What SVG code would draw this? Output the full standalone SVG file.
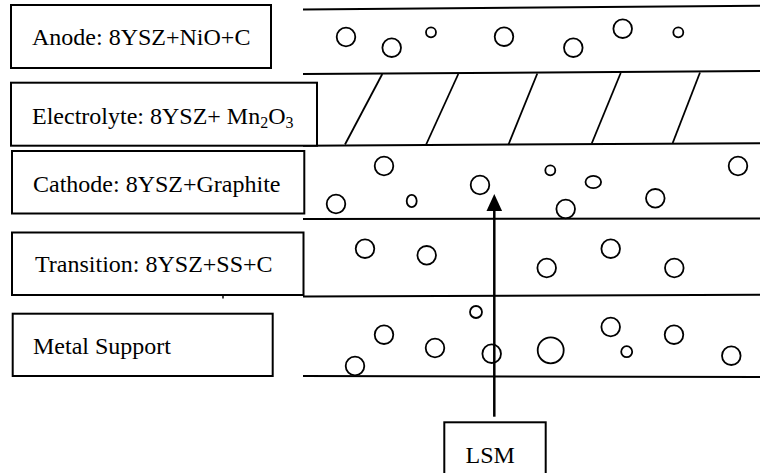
<svg xmlns="http://www.w3.org/2000/svg" width="762" height="473" viewBox="0 0 762 473">
<style>
  .box { fill: #fff; stroke: #000; stroke-width: 2; }
  .lbl { font-family: "Liberation Serif", "Times New Roman", serif; font-size: 24px; fill: #000; }
  .sub { font-size: 16px; }
  .layer { stroke: #000; stroke-width: 2; fill: none; }
  .hatch { stroke: #000; stroke-width: 1.8; fill: none; }
  .pore { fill: none; stroke: #000; stroke-width: 1.8; }
  .conn { stroke: #000; stroke-width: 2.5; fill: none; }
</style>
<rect width="762" height="473" fill="#fff"/>

<g id="layers">
  <line class="layer" x1="303" y1="9.5" x2="760" y2="5.7"/>
  <line class="layer" x1="303" y1="74" x2="760" y2="71"/>
  <line class="layer" x1="303" y1="145.7" x2="760" y2="143.3"/>
  <line class="layer" x1="303" y1="219" x2="760" y2="218.5"/>
  <line class="layer" x1="303" y1="296.5" x2="760" y2="294.8"/>
  <line class="layer" x1="303" y1="376" x2="760" y2="377"/>
  <g id="electrolyte-hatch">
    <line class="hatch" x1="382.3" y1="74" x2="345" y2="144.5"/>
    <line class="hatch" x1="458.3" y1="74" x2="425.7" y2="145.5"/>
    <line class="hatch" x1="537.3" y1="73.5" x2="508.3" y2="145"/>
    <line class="hatch" x1="620.7" y1="73" x2="591.7" y2="143.5"/>
    <line class="hatch" x1="700" y1="72.5" x2="672.7" y2="143"/>
  </g>
  <g id="anode-pores">
    <circle class="pore" cx="346" cy="37" r="9.3"/>
    <circle class="pore" cx="391.7" cy="47.7" r="9.3"/>
    <circle class="pore" cx="431" cy="32.3" r="5"/>
    <circle class="pore" cx="504" cy="36.7" r="9.3"/>
    <circle class="pore" cx="573.3" cy="47.7" r="9.3"/>
    <circle class="pore" cx="622.7" cy="28.7" r="9.3"/>
    <circle class="pore" cx="678.3" cy="32.3" r="5"/>
  </g>
  <g id="cathode-pores">
    <circle class="pore" cx="384" cy="166" r="9.3"/>
    <circle class="pore" cx="336" cy="204" r="9.3"/>
    <ellipse class="pore" cx="411.7" cy="201" rx="5" ry="6.2"/>
    <circle class="pore" cx="480" cy="185" r="9.3"/>
    <circle class="pore" cx="550.3" cy="170.3" r="5"/>
    <ellipse class="pore" cx="593.3" cy="182" rx="7.8" ry="6.2"/>
    <circle class="pore" cx="565.7" cy="209" r="9.3"/>
    <circle class="pore" cx="655.3" cy="198.3" r="9.3"/>
    <circle class="pore" cx="738" cy="166" r="9.3"/>
  </g>
  <g id="transition-pores">
    <circle class="pore" cx="365" cy="248.7" r="9.3"/>
    <circle class="pore" cx="426.7" cy="255.3" r="9.3"/>
    <circle class="pore" cx="546.7" cy="268" r="9.3"/>
    <circle class="pore" cx="610.7" cy="248.7" r="9.3"/>
    <circle class="pore" cx="674.3" cy="268" r="9.3"/>
  </g>
  <g id="metal-pores">
    <circle class="pore" cx="476" cy="312" r="6"/>
    <circle class="pore" cx="384" cy="334.7" r="9.3"/>
    <circle class="pore" cx="435" cy="348" r="9.3"/>
    <circle class="pore" cx="355" cy="366" r="9.3"/>
    <circle class="pore" cx="491.7" cy="353.7" r="9.3"/>
    <circle class="pore" cx="550.7" cy="350.3" r="13"/>
    <circle class="pore" cx="610.7" cy="327" r="9.3"/>
    <circle class="pore" cx="626.7" cy="351.7" r="5.5"/>
    <circle class="pore" cx="674" cy="334.7" r="9.3"/>
    <circle class="pore" cx="731.3" cy="355.7" r="9.3"/>
  </g>
</g>

<g id="anode">
  <rect class="box" x="11" y="5" width="260" height="63"/>
  <text class="lbl" x="32" y="45">Anode: 8YSZ+NiO+C</text>
</g>
<g id="electrolyte">
  <rect class="box" x="11" y="82.7" width="306" height="63"/>
  <text class="lbl" x="32" y="124">Electrolyte: 8YSZ+ Mn<tspan class="sub" dy="4">2</tspan><tspan dy="-4">O</tspan><tspan class="sub" dy="4">3</tspan></text>
</g>
<g id="cathode">
  <rect class="box" x="12" y="151" width="292.3" height="62.5"/>
  <text class="lbl" x="33" y="192">Cathode: 8YSZ+Graphite</text>
</g>
<g id="transition">
  <rect class="box" x="12" y="232.5" width="291.5" height="62.5"/>
  <text class="lbl" x="35" y="271.5">Transition: 8YSZ+SS+C</text>
  <line x1="223" y1="295" x2="223" y2="298.5" stroke="#000" stroke-width="1.5"/>
</g>
<g id="metal-support">
  <rect class="box" x="12.7" y="313.7" width="260" height="62.3"/>
  <text class="lbl" x="33" y="354">Metal Support</text>
</g>
<g id="lsm">
  <rect class="box" x="444.3" y="422.3" width="101.4" height="52"/>
  <text class="lbl" x="465.5" y="462.5">LSM</text>
</g>

<g id="connectors">
  <line class="conn" x1="494.3" y1="209" x2="494.3" y2="416.7"/>
  <polygon points="494.3,194 486.5,211 502.1,211" fill="#000"/>
</g>
</svg>
